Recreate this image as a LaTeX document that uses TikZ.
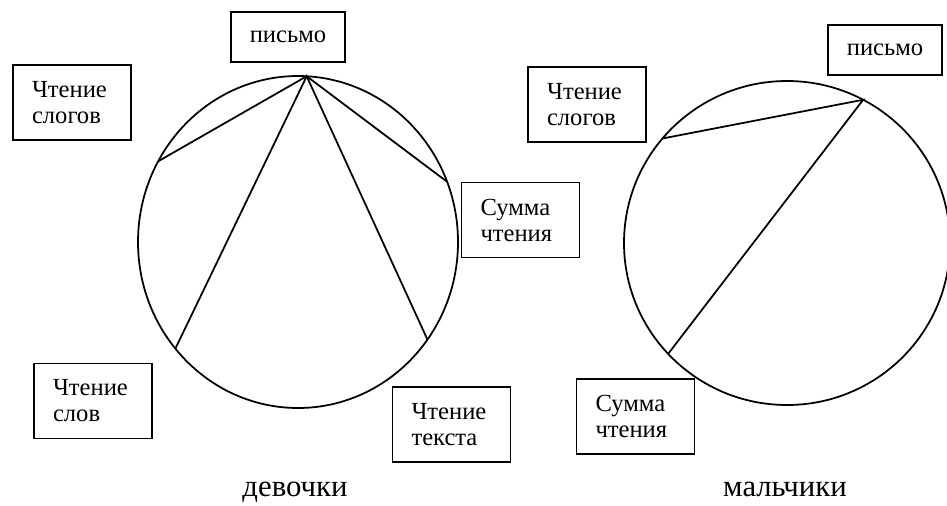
\documentclass[tikz,border=0pt]{standalone}
\usepackage{fontspec}
\setmainfont{Liberation Serif}
\usetikzlibrary{shapes.geometric}

\begin{document}
\begin{tikzpicture}[
 box/.style={draw,line width=0.9pt,text width=1.6cm,minimum height=1.5cm,align=left,inner xsep=0.38cm,inner ysep=2pt,font=\fontsize{14}{14.8}\selectfont},
 topbox/.style={draw,line width=0.9pt,minimum width=2.28cm,minimum height=1.0cm,align=center,font=\fontsize{14}{14.8}\selectfont},
 pleiad/.style={draw,ellipse,line width=1pt,inner sep=0pt,outer sep=0pt},
 link/.style={line width=1pt},
 caption/.style={anchor=base,font=\fontsize{17.5}{20}\selectfont}]
\useasboundingbox (0,0) rectangle (18.94,-10.10);

\node[pleiad,minimum width=6.4cm,minimum height=6.64cm] (girls) at (5.96,-4.84) {};
\node[pleiad,minimum width=6.52cm,minimum height=6.48cm] (boys) at (15.74,-4.86) {};

\node[topbox] (gwrite) at (5.76,-0.74) {письмо};
\node[box] (gsyl) at (1.44,-2.05) {Чтение\\слогов};
\node[box] (gsum) at (10.41,-4.40) {Сумма\\чтения};
\node[box] (gword) at (1.86,-8.02) {Чтение\\слов};
\node[box] (gtext) at (9.03,-8.49) {Чтение\\текста};
\node[caption] (gcap) at (5.90,-9.92) {девочки};

\node[topbox] (bwrite) at (17.70,-1.00) {письмо};
\node[box] (bsyl) at (11.74,-2.09) {Чтение\\слогов};
\node[box] (bsum) at (12.71,-8.33) {Сумма\\чтения};
\node[caption] (bcap) at (15.70,-9.92) {мальчики};

\draw[link] (girls.150) -- (girls.87) -- (girls.22);
\draw[link] (girls.221) -- (girls.87) -- (girls.323);
\draw[link] (boys.140) -- (boys.62) -- (boys.223);
\end{tikzpicture}
\end{document}
